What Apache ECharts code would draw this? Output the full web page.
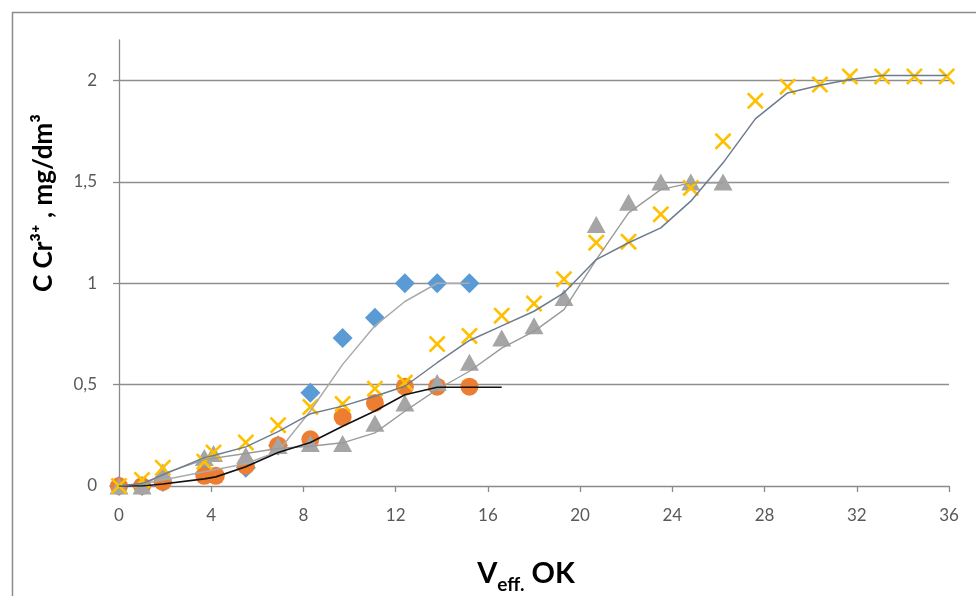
<!DOCTYPE html>
<html>
<head>
<meta charset="utf-8">
<script src="https://cdn.jsdelivr.net/npm/echarts@6/dist/echarts.min.js"></script>
<style>html,body{margin:0;padding:0;background:#fff}#c{width:976px;height:596px}</style>
</head>
<body>
<div id="c"></div>
<script>
// ---- data ----
const blueX = [0, 1.0, 1.9, 3.7, 5.5, 6.9, 8.3, 9.7, 11.1, 12.4, 13.8, 15.2];
const blueY = [0, 0.0, 0.02, 0.06, 0.09, 0.2, 0.46, 0.73, 0.83, 1.0, 1.0, 1.0];
const orangeX = [0, 1.0, 1.9, 3.7, 4.2, 5.5, 6.9, 8.3, 9.7, 11.1, 12.4, 13.8, 15.2];
const orangeY = [0, 0.0, 0.02, 0.05, 0.05, 0.1, 0.2, 0.23, 0.34, 0.41, 0.49, 0.49, 0.49];
const grayX = [0, 1.0, 1.9, 3.7, 4.1, 5.5, 6.9, 8.3, 9.7, 11.1, 12.4, 13.8, 15.2, 16.6, 18.0, 19.3, 20.7, 22.1, 23.5, 24.8, 26.2];
const grayY = [0, 0.0, 0.07, 0.14, 0.16, 0.15, 0.2, 0.21, 0.21, 0.31, 0.41, 0.51, 0.61, 0.73, 0.79, 0.93, 1.29, 1.4, 1.5, 1.5, 1.5];
const yellowX = [0, 1.0, 1.9, 3.7, 4.1, 5.5, 6.9, 8.3, 9.7, 11.1, 12.4, 13.8, 15.2, 16.6, 18.0, 19.3, 20.7, 22.1, 23.5, 24.8, 26.2, 27.6, 29.0, 30.4, 31.7, 33.1, 34.5, 35.9];
const yellowY = [0, 0.03, 0.09, 0.12, 0.165, 0.215, 0.3, 0.39, 0.405, 0.48, 0.51, 0.7, 0.74, 0.84, 0.9, 1.02, 1.2, 1.205, 1.34, 1.47, 1.7, 1.9, 1.97, 1.98, 2.02, 2.02, 2.02, 2.02];

// fitted curves
const blueFitX = [0, 1.0, 1.9, 3.7, 5.5, 6.9, 8.3, 9.7, 11.1, 12.4, 13.8, 15.2];
const blueFitY = [0, 0.01, 0.03, 0.07, 0.11, 0.17, 0.37, 0.6, 0.79, 0.91, 1.0, 1.0];
const orangeFitX = [0, 1.0, 1.9, 3.7, 4.2, 5.5, 6.9, 8.3, 9.7, 11.1, 12.4, 13.8, 15.2, 16.6];
const orangeFitY = [0, 0.0, 0.01, 0.035, 0.045, 0.095, 0.165, 0.215, 0.295, 0.37, 0.45, 0.487, 0.487, 0.487];
const grayFitX = [0, 1.0, 1.9, 3.7, 5.5, 6.9, 8.3, 9.7, 11.1, 12.4, 13.8, 15.2, 16.6, 18.0, 19.3, 20.7, 22.1, 23.5, 24.8, 26.2];
const grayFitY = [0, 0.0, 0.06, 0.13, 0.16, 0.185, 0.196, 0.213, 0.262, 0.369, 0.476, 0.566, 0.68, 0.763, 0.87, 1.117, 1.347, 1.462, 1.495, 1.495];
const yellowFitX = [0, 1.0, 1.9, 3.7, 4.1, 5.5, 6.9, 8.3, 9.7, 11.1, 12.4, 13.8, 15.2, 16.6, 18.0, 19.3, 20.7, 22.1, 23.5, 24.8, 26.2, 27.6, 29.0, 30.4, 31.7, 33.1, 34.5, 35.9];
const yellowFitY = [0, 0.012, 0.055, 0.14, 0.15, 0.193, 0.268, 0.356, 0.394, 0.443, 0.492, 0.608, 0.718, 0.79, 0.862, 0.953, 1.117, 1.2, 1.273, 1.405, 1.594, 1.811, 1.939, 1.977, 2.005, 2.025, 2.025, 2.025];

const xTicks = [0, 4, 8, 12, 16, 20, 24, 28, 32, 36];
const yTicks = [0, 0.5, 1, 1.5, 2];
const yTitle = 'C Cr³⁺ , mg/dm³';

const pairs = (xs, ys) => xs.map((x, i) => [x, ys[i]]);
const F = 'Lato, "Open Sans", "Noto Sans", sans-serif';
const crossPath = 'path://M0,1.1 L1.1,0 L5,3.9 L8.9,0 L10,1.1 L6.1,5 L10,8.9 L8.9,10 L5,6.1 L1.1,10 L0,8.9 L3.9,5 Z';

const chart = echarts.init(document.getElementById('c'), null, {renderer: 'canvas'});
const fitLine = (data, color, w, z) => ({
  type: 'line', data, showSymbol: false, symbol: 'none', smooth: false,
  lineStyle: {color, width: w}, z, silent: true, animation: false
});
const scat = (data, symbol, size, color, z) => ({
  type: 'scatter', data, symbol, symbolSize: size, itemStyle: {color, opacity: 1}, z, animation: false
});

chart.setOption({
  animation: false,
  backgroundColor: '#ffffff',
  grid: {left: 119, right: 27, top: 40, bottom: 110, containLabel: false},
  xAxis: {
    type: 'value', min: 0, max: 36, interval: 4,
    axisLine: {show: true, lineStyle: {color: '#8a8a8a', width: 1.3}},
    axisTick: {show: true, inside: false, length: 6, lineStyle: {color: '#8a8a8a', width: 1.3}},
    axisLabel: {color: '#595959', fontSize: 17, fontFamily: F, margin: 21,
      formatter: v => xTicks.includes(v) ? String(v) : ''},
    splitLine: {show: false}
  },
  yAxis: {
    type: 'value', min: 0, max: 2.2, interval: 0.5,
    axisLine: {show: true, lineStyle: {color: '#8a8a8a', width: 1.3}},
    axisTick: {show: true, inside: false, length: 6, lineStyle: {color: '#8a8a8a', width: 1.3}},
    axisLabel: {color: '#595959', fontSize: 17, fontFamily: F, margin: 22, showMaxLabel: false,
      formatter: v => yTicks.includes(v) ? String(v).replace('.', ',') : ''},
    splitLine: {show: true, showMinLine: false, showMaxLine: false, lineStyle: {color: '#8e8e8e', width: 1.3}}
  },
  series: [
    scat(pairs(blueX, blueY), 'diamond', 20, '#5B9BD5', 3),
    scat(pairs(orangeX, orangeY), 'circle', 18, '#ED7D31', 4),
    scat(pairs(grayX, grayY), 'triangle', [19, 17], '#A5A5A5', 5),
    scat(pairs(yellowX, yellowY), crossPath, 17, '#FFC000', 6),
    fitLine(pairs(blueFitX, blueFitY), '#ababab', 1.5, 10),
    fitLine(pairs(orangeFitX, orangeFitY), '#111111', 1.6, 11),
    fitLine(pairs(grayFitX, grayFitY), '#9a9a9a', 1.4, 10),
    fitLine(pairs(yellowFitX, yellowFitY), '#6d7c8f', 1.5, 12)
  ],
  graphic: [
    {type: 'rect', left: 10, top: 10, shape: {x: 0, y: 0, width: 1200, height: 900},
      style: {fill: 'none', stroke: '#8c8c8c', lineWidth: 1.5}, silent: true, z: 0},
    {type: 'text', x: 44, y: 203, rotation: Math.PI / 2,
      style: {text: yTitle, font: 'bold 26px ' + F, fill: '#000', align: 'center', verticalAlign: 'middle'}},
    {type: 'text', x: 526, y: 572,
      style: {
        text: '{a|V}{b|eff.}{a| OK}', align: 'center', verticalAlign: 'middle',
        rich: {
          a: {font: 'bold 29px ' + F, fill: '#000', lineHeight: 32, verticalAlign: 'bottom'},
          b: {font: 'bold 19px ' + F, fill: '#000', lineHeight: 19, verticalAlign: 'bottom', padding: [0, 0, -6, 0]}
        }
      }}
  ]
});
</script>
</body>
</html>
